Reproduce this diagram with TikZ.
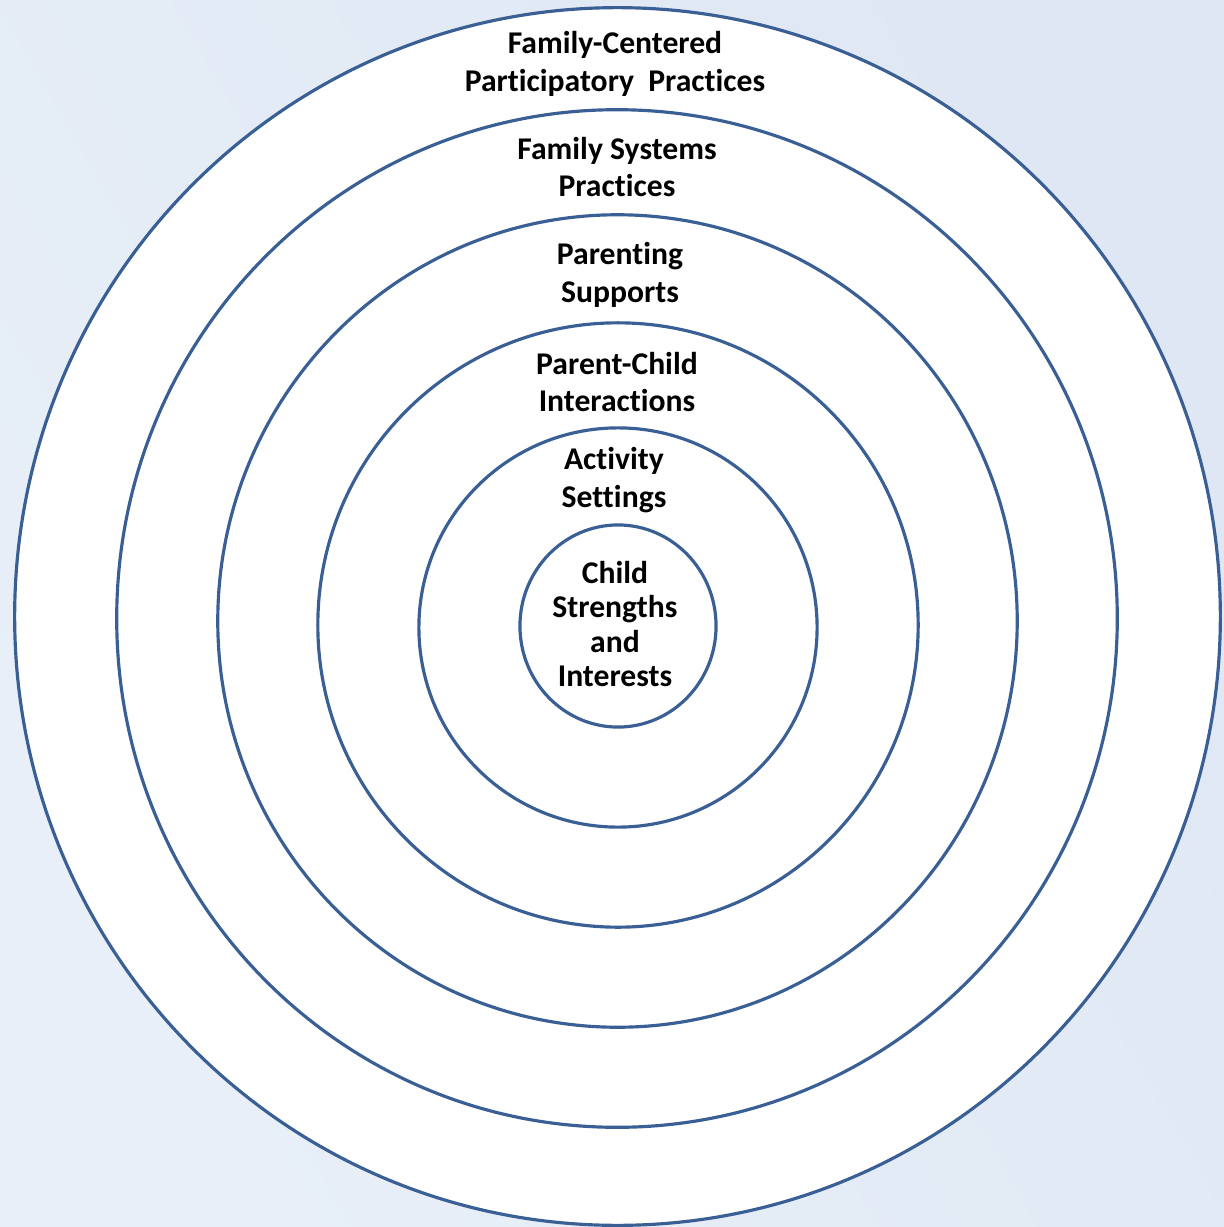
\documentclass[tikz,border=0pt]{standalone}
\usepackage{fontspec}
\setmainfont{Carlito}[Ligatures={NoCommon,NoDiscretionary}]
\usetikzlibrary{shapes.geometric}
\definecolor{ringblue}{RGB}{58,95,148}
\definecolor{bgA}{RGB}{232,239,248}
\definecolor{bgB}{RGB}{222,231,243}
\tikzset{
  ring/.style={ellipse, draw=ringblue, line width=0.9pt, fill=white, inner sep=0pt},
  lbl/.style={align=center, font=\bfseries\fontsize{9.0}{10.8}\selectfont, inner sep=0pt}
}
\begin{document}
\begin{tikzpicture}[x=0.01cm, y=-0.01cm]
\shade[left color=bgA, right color=bgB, shading angle=120] (0,0) rectangle (1224,1227);
\useasboundingbox (0,0) rectangle (1224,1227);
\node[ring, minimum width=12.05cm, minimum height=12.17cm] (r1) at (617.5,616.5) {};
\node[ring, minimum width=10.00cm, minimum height=10.17cm] (r2) at (617,618.5) {};
\node[ring, minimum width=7.99cm, minimum height=8.12cm] (r3) at (617.5,621) {};
\node[ring, minimum width=6.00cm, minimum height=6.04cm] (r4) at (618,625) {};
\node[ring, minimum width=3.98cm, minimum height=3.99cm] (r5) at (618,627.5) {};
\node[ring, minimum width=1.96cm, minimum height=2.02cm] (r6) at (618,626) {};
\node[lbl] (t1) at (615,64) {Family-Centered\\Participatory\ \ Practices};
\node[lbl] (t2) at (617,167) {Family Systems\\Practices};
\node[lbl] (t3) at (620,275) {Parenting\\Supports};
\node[lbl] (t4) at (617,382) {Parent-Child\\Interactions};
\node[lbl] (t5) at (614,480) {Activity\\Settings};
\node[lbl, font=\bfseries\fontsize{9.0}{9.8}\selectfont] (t6) at (615,624) {Child\\Strengths\\and\\Interests};
\end{tikzpicture}
\end{document}
